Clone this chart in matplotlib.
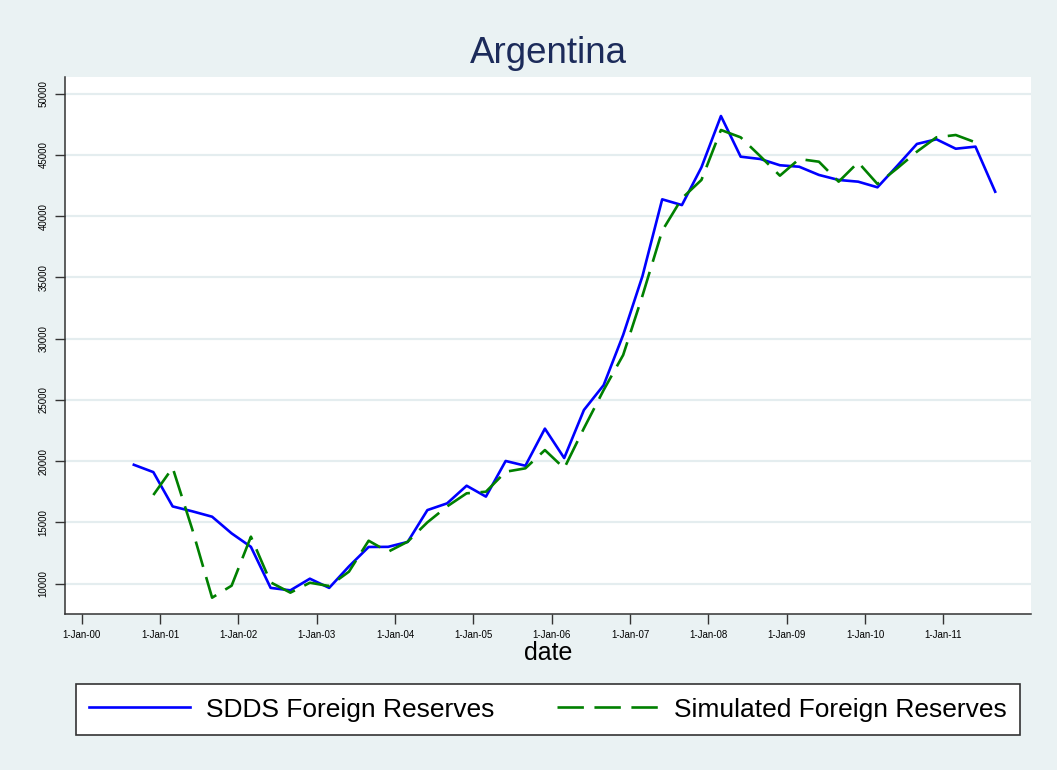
import matplotlib
matplotlib.use("Agg")
import matplotlib.pyplot as plt
import pandas as pd

plt.rcParams['font.family'] = ['Liberation Sans', 'DejaVu Sans']

# quarterly observations (end of Aug / Nov / Feb / May)
dates = pd.date_range(start="2000-08-31", periods=45, freq=pd.offsets.MonthEnd(3))

sdds = [19700, 19100, 16300, 15900, 15460, 14100, 13000, 9650, 9450, 10400,
        9650, 11400, 12990, 13000, 13400, 16000, 16550, 17990, 17100, 20010,
        19620, 22650, 20250, 24170, 26200, 30300, 35100, 41370, 40900, 43980,
        48170, 44850, 44660, 44150, 44030, 43360, 42950, 42810, 42350, 44100,
        45890, 46270, 45500, 45670, 41990]

simulated = [17230, 19460, 14400, 8850, 9830, 13830, 10100, 9260, 10070, 9800,
             10970, 13500, 12600, 13420, 15000, 16300, 17370, 17500, 19130, 19410,
             20900, 19410, 22680, 25800, 28660, 33500, 38800, 41450, 42950, 47030,
             46430, 44880, 43300, 44660, 44440, 42810, 44390, 42620, 43900, 45260,
             46430, 46620, 46020]
sim_dates = dates[1:44]

tick_years = list(range(2000, 2012))
y_ticks = [10000, 15000, 20000, 25000, 30000, 35000, 40000, 45000, 50000]

bg = "#EAF2F3"
fig = plt.figure(figsize=(10.57, 7.70), dpi=100, facecolor=bg)
ax = fig.add_axes([0.0615, 0.2026, 0.9139, 0.6974])
ax.set_facecolor("white")

ax.plot(dates, sdds, color="#0000FF", lw=1.9, label="SDDS Foreign Reserves", zorder=3)
ax.plot(sim_dates, simulated, color="#008000", lw=1.9, dashes=(10, 4),
        label="Simulated Foreign Reserves", zorder=3)

ax.set_xlim(pd.Timestamp("1999-10-15"), pd.Timestamp("2012-02-14"))
ax.set_ylim(7518, 51355)

ax.set_xticks([pd.Timestamp(f"{y}-01-01") for y in tick_years])
ax.set_xticklabels([f"1-Jan-{str(y)[2:]}" for y in tick_years], fontsize=7)
ax.set_yticks(y_ticks)
ax.set_yticklabels([str(v) for v in y_ticks], fontsize=7, rotation=90, va="center")

ax.grid(axis="y", color="#E4EDEF", lw=1.6, zorder=0)
ax.tick_params(axis="both", direction="out", length=7, width=1, color="#333333")
ax.tick_params(axis="x", pad=4.5)
ax.tick_params(axis="y", pad=5)
for s in ["top", "right"]:
    ax.spines[s].set_visible(False)
for s in ["left", "bottom"]:
    ax.spines[s].set_color("#333333")
    ax.spines[s].set_linewidth(1.1)

ax.set_xlabel("date", fontsize=18, labelpad=1)
ax.set_title("Argentina", fontsize=26.5, color="#1C2B5A", pad=10)

leg = fig.legend(loc="center", bbox_to_anchor=(0.0716, 0.0455, 0.8934, 0.066),
                 mode="expand", ncol=2, borderaxespad=0,
                 fontsize=19, handlelength=3.8, handletextpad=0.6,
                 columnspacing=1.8, borderpad=0.52, fancybox=False,
                 framealpha=1, edgecolor="#333333")
leg.get_frame().set_linewidth(1.2)

fig.savefig("out.png", dpi=100, facecolor=bg)
